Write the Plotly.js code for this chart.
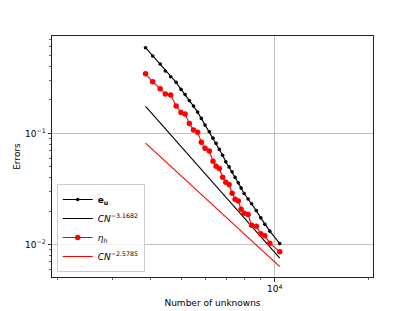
<!DOCTYPE html>
<html>
<head>
<meta charset="utf-8">
<script src="https://cdn.plot.ly/plotly-3.0.1.min.js"></script>
<style>html,body{margin:0;padding:0;background:#fff;}#chart{width:415px;height:311px;}</style>
</head>
<body>
<div id="chart"></div>
<script>
// Number of unknowns (shared by both error series)
const unknowns = [3843, 4052, 4282, 4450, 4628, 4819, 4997, 5151, 5313, 5481, 5650, 5807,
  5968, 6161, 6331, 6478, 6634, 6798, 6960, 7132, 7293, 7456, 7635, 7795, 7970, 8210,
  8424, 8721, 9016, 9288, 9637, 10377];
// Error e_u
const errU = [0.5903, 0.4970, 0.4210, 0.3642, 0.3235, 0.2880, 0.2490, 0.2236, 0.1974, 0.1762,
  0.1555, 0.1365, 0.1188, 0.1034, 0.0907, 0.0813, 0.0718, 0.0637, 0.0555, 0.0500, 0.0451,
  0.0402, 0.0359, 0.0322, 0.0288, 0.0257, 0.0233, 0.0202, 0.0174, 0.0152, 0.0132, 0.0102];
// Estimator eta_h
const etaH = [0.3442, 0.2916, 0.2522, 0.2259, 0.2213, 0.1762, 0.1546, 0.1492, 0.1231, 0.1071,
  0.1027, 0.0835, 0.0737, 0.0693, 0.0563, 0.0507, 0.0484, 0.0404, 0.0364, 0.0347, 0.0290,
  0.0256, 0.0246, 0.0208, 0.0191, 0.0186, 0.0149, 0.0146, 0.0125, 0.0120, 0.0103, 0.0086];
// Reference rate lines (end points)
const fitUx = [3843, 10377];
const fitUy = [0.1751, 0.00755];
const fitEtaX = [3843, 10377];
const fitEtaY = [0.0818, 0.00632];
// Labels
const labels = ['<b>e</b><sub><b>u</b></sub>', '<i>CN</i><sup>−3.1682</sup>',
  '<i>η</i><sub><i>h</i></sub>', '<i>CN</i><sup>−2.5785</sup>'];
const xTickVals = [10000];
const xTickText = ['10<sup>4</sup>'];
const xMinor = [2000, 3000, 4000, 5000, 6000, 7000, 8000, 9000, 20000];
const yTickVals = [0.01, 0.1];
const yTickText = ['10<sup>−2</sup>', '10<sup>−1</sup>'];
const yMinor = [0.006, 0.007, 0.008, 0.009, 0.02, 0.03, 0.04, 0.05, 0.06, 0.07, 0.08, 0.09,
  0.2, 0.3, 0.4, 0.5, 0.6, 0.7];

const traces = [
  {x: unknowns, y: errU, name: labels[0], mode: 'lines+markers',
   line: {color: '#000000', width: 1.1}, marker: {color: '#000000', size: 3.6}},
  {x: fitUx, y: fitUy, name: labels[1], mode: 'lines',
   line: {color: '#000000', width: 1.1}},
  {x: unknowns, y: etaH, name: labels[2], mode: 'lines+markers',
   line: {color: '#ff0000', width: 1.1}, marker: {color: '#ff0000', size: 5.5}},
  {x: fitEtaX, y: fitEtaY, name: labels[3], mode: 'lines',
   line: {color: '#ff0000', width: 1.1}}
];

const axisCommon = {
  type: 'log', showline: true, linecolor: '#222', linewidth: 1, mirror: true,
  ticks: 'outside', ticklen: 3.5, tickwidth: 0.8, tickcolor: '#000',
  showgrid: true, gridcolor: '#b0b0b0', gridwidth: 0.8, zeroline: false,
  tickmode: 'array', tickfont: {family: 'DejaVu Sans', size: 9, color: '#000'}
};

const layout = {
  width: 415, height: 311,
  margin: {l: 52, r: 41.7, t: 36, b: 34.3},
  paper_bgcolor: '#fff', plot_bgcolor: '#fff',
  font: {family: 'DejaVu Sans', size: 9, color: '#000'},
  showlegend: true,
  xaxis: Object.assign({}, axisCommon, {
    range: [3.284, 4.3157], tickvals: xTickVals, ticktext: xTickText,
    minor: {tickmode: 'array', tickvals: xMinor, ticks: 'outside', ticklen: 2, tickwidth: 0.6, tickcolor: '#000', showgrid: false},
    title: {text: 'Number of unknowns', font: {family: 'DejaVu Sans', size: 9, color: '#000'}, standoff: 6}
  }),
  yaxis: Object.assign({}, axisCommon, {
    range: [-2.2919, -0.1234], tickvals: yTickVals, ticktext: yTickText,
    minor: {tickmode: 'array', tickvals: yMinor, ticks: 'outside', ticklen: 2, tickwidth: 0.6, tickcolor: '#000', showgrid: false},
    title: {text: 'Errors', font: {family: 'DejaVu Sans', size: 9, color: '#000'}, standoff: 2}
  }),
  legend: {
    x: 0.0146, y: 0.021, xanchor: 'left', yanchor: 'bottom',
    bgcolor: 'rgba(255,255,255,0.8)', bordercolor: '#cccccc', borderwidth: 1,
    font: {family: 'DejaVu Sans', size: 9, color: '#000'},
    itemwidth: 30, tracegroupgap: 0
  }
};

Plotly.newPlot('chart', traces, layout, {displayModeBar: false, staticPlot: true});
</script>
</body>
</html>
